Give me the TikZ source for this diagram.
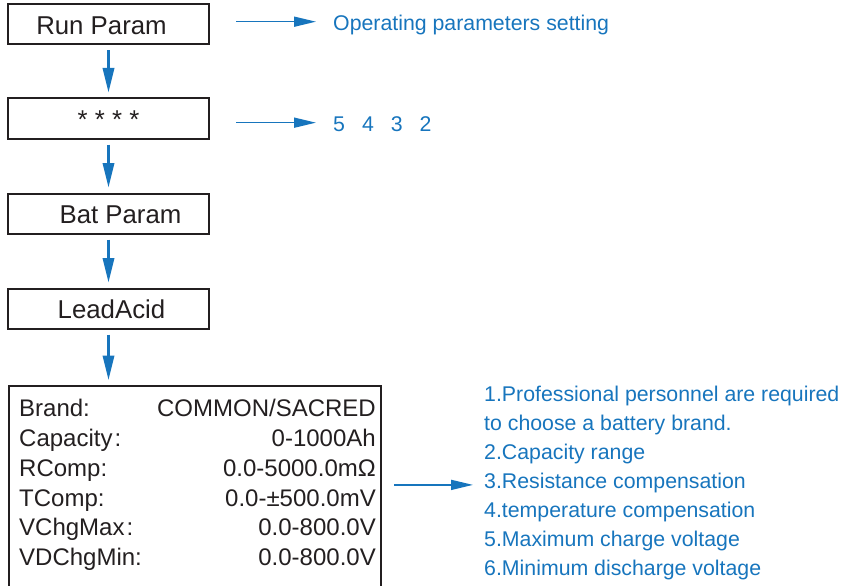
\documentclass[tikz,border=0pt]{standalone}
\usepackage{fontspec}
\setmainfont{Liberation Sans}
\usetikzlibrary{arrows.meta,positioning,calc}
\definecolor{hint}{RGB}{23,117,189}
\definecolor{ink}{RGB}{35,31,32}
\tikzset{
  menu/.style={draw=ink,line width=2pt,minimum width=201pt,minimum height=40pt,inner sep=0pt},
  ttl/.style={font=\fontsize{25.8}{28}\selectfont,text=ink,inner sep=0pt},
  row/.style={font=\fontsize{24}{26}\selectfont,text=ink,inner sep=0pt},
  note/.style={font=\fontsize{21.3}{24}\selectfont,text=hint,inner sep=0pt,anchor=base west},
  down/.style={hint,line width=3.5pt,-{Triangle[length=25pt,width=11pt]},shorten <=5pt,shorten >=4.5pt},
  side/.style={hint,line width=1.6pt,-{Triangle[length=22pt,width=10pt]}}
}

\begin{document}
\begin{tikzpicture}[x=1pt,y=-1pt]
\clip (0,0) rectangle (847,586);
% menu chain
\foreach \n/\y/\dx/\t in {run/24.5/-7/Run Param,pwd/118.5/0/* * * *,bat/213.5/12/Bat Param,lead/308.5/3/LeadAcid}{
  \node[menu] (\n) at (108.5,\y) {};
  \node[ttl] (\n-t) at ($(\n)+(\dx,1)$) {\t};
}
\node[menu,minimum width=372pt,minimum height=220pt,anchor=north west] (spec) at (8,385) {};
% battery parameter rows
\foreach \i/\k/\v in {0/Brand:/{COMMON/SACRED},1/Capacity\kern2pt:/0-1000Ah,2/RComp:/0.0-5000.0mΩ,3/TComp:/0.0-±500.0mV,4/VChgMax\kern2pt:/0.0-800.0V,5/VDChgMin:/0.0-800.0V}{
  \node[row,anchor=base west] (k\i) at (19,416.7+29.8*\i) {\k};
  \node[row,anchor=base east] (v\i) at (376,416.7+29.8*\i) {\v};
}
% notes
\node[note] (op) at (333,30.7) {Operating parameters setting};
\node[note] (code) at (333,131.7) {5\hspace{17pt}4\hspace{17pt}3\hspace{17pt}2};
\foreach \i/\t in {0/1.Professional personnel are required,1/to choose a battery brand.,2/2.Capacity range,3/3.Resistance compensation,4/4.temperature compensation,5/5.Maximum charge voltage,6/6.Minimum discharge voltage}
  \node[note] (n\i) at (484,401.7+28.9*\i) {\t};
% arrows
\draw[down] (run) -- (pwd);
\draw[down] (pwd) -- (bat);
\draw[down] (bat) -- (lead);
\draw[down] (lead) -- (spec.north -| lead);
\draw[side,shorten <=26pt,shorten >=17pt] ($(run.east |- op.west)+(0,-3.5)$) -- ($(op.west)+(0,-3.5)$);
\draw[side,shorten <=26pt,shorten >=17pt] ($(pwd.east |- code.west)+(0,-1.7)$) -- ($(code.west)+(0,-1.7)$);
\draw[side,shorten <=12pt,shorten >=11pt] ($(spec.east |- n3.west)+(0,2)$) -- ($(n3.west)+(0,2)$);
\end{tikzpicture}
\end{document}
